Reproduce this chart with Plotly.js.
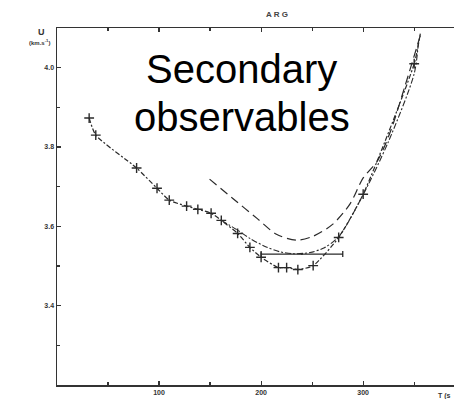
<!DOCTYPE html>
<html>
<head>
<meta charset="utf-8">
<script src="https://cdn.plot.ly/plotly-3.0.1.min.js"></script>
<style>html,body{margin:0;padding:0;background:#fff}#chart{width:454px;height:399px}</style>
</head>
<body>
<div id="chart"></div>
<script>
// Observed group velocity with markers (dash-dot)
var obsT = [31.5, 38, 78, 98, 110, 127, 138, 151, 161, 177, 189, 200, 217, 225, 236, 251, 276, 300, 350, 356];
var obsU = [3.873, 3.830, 3.747, 3.696, 3.666, 3.651, 3.643, 3.633, 3.615, 3.582, 3.547, 3.522, 3.496, 3.496, 3.491, 3.501, 3.572, 3.681, 4.010, 4.086];
var obsMarked = [1,1,1,1,1,1,1,1,1,1,1,1,1,1,1,1,1,1,1,0];
// Middle model curve (dash-dot, no markers)
var midT = [161, 176, 190, 205, 218, 232, 248, 262, 276, 300, 325, 350, 354];
var midU = [3.615, 3.592, 3.568, 3.548, 3.536, 3.531, 3.534, 3.546, 3.574, 3.680, 3.815, 3.985, 4.060];
// Upper model curve (long dash)
var upT = [149.5, 172, 196, 215, 235, 251, 270, 287, 300, 314, 327, 341, 356];
var upU = [3.719, 3.671, 3.620, 3.580, 3.565, 3.575, 3.605, 3.656, 3.722, 3.765, 3.841, 3.954, 4.081];
// Horizontal bar
var barT = [240];
var barU = [3.530];
var barHalf = [40];
// Tick labels
var xTickVals = [100, 200, 300];
var xTickText = ['<b>100</b>', '<b>200</b>', '<b>300</b>'];
var yTickVals = [3.4, 3.6, 3.8, 4.0];
var yTickText = ['<b>3.4</b>', '<b>3.6</b>', '<b>3.8</b>', '<b>4.0</b>'];

var lineCol = '#2a2a2a';
var markT = obsT.filter(function(_, i){return obsMarked[i];});
var markU = obsU.filter(function(_, i){return obsMarked[i];});

var data = [
  {x: upT, y: upU, mode: 'lines', line: {color: lineCol, width: 1.2, dash: '9px,5px', shape: 'spline', smoothing: 0.8}, hoverinfo: 'skip'},
  {x: midT, y: midU, mode: 'lines', line: {color: lineCol, width: 1.1, dash: '6px,2px,2px,2px', shape: 'spline', smoothing: 0.8}, hoverinfo: 'skip'},
  {x: obsT, y: obsU, mode: 'lines', line: {color: lineCol, width: 1.2, dash: '5px,2px,2px,2px', shape: 'spline', smoothing: 0.6}, hoverinfo: 'skip'},
  {x: markT, y: markU, mode: 'markers', marker: {symbol: 'cross-thin-open', size: 7, color: lineCol, line: {color: lineCol, width: 1.4}}, hoverinfo: 'skip'},
  {x: barT, y: barU, mode: 'markers', marker: {size: 2, color: lineCol},
   error_x: {type: 'data', array: barHalf, visible: true, color: lineCol, thickness: 1.3, width: 3}, hoverinfo: 'skip'}
];

var axisCommon = {ticks: 'inside', ticklen: 4, tickcolor: '#333', tickwidth: 1.2, showline: true, linecolor: '#333', linewidth: 1.5,
                  showgrid: false, zeroline: false, tickfont: {size: 7, color: '#333'}};

var layout = {
  width: 454, height: 399,
  margin: {l: 57, r: 0, t: 28, b: 14},
  showlegend: false,
  paper_bgcolor: '#fff', plot_bgcolor: '#fff',
  font: {family: 'Liberation Sans, Arial, sans-serif', color: '#333'},
  title: {text: '<b>A R G</b>', font: {size: 8, color: '#444'}, x: 0.61, xanchor: 'center', y: 0.965, yanchor: 'middle'},
  xaxis: Object.assign({}, axisCommon, {range: [0, 389], tickmode: 'array', tickvals: xTickVals, ticktext: xTickText, mirror: 'ticks',
          minor: {dtick: 50, tick0: 0, ticks: 'inside', ticklen: 3, tickcolor: '#333', showgrid: false}}),
  yaxis: Object.assign({}, axisCommon, {range: [3.2, 4.1], tickmode: 'array', tickvals: yTickVals, ticktext: yTickText,
          minor: {dtick: 0.1, tick0: 3.2, ticks: 'inside', ticklen: 3, tickcolor: '#333', showgrid: false}}),
  annotations: [
    {xref: 'paper', yref: 'paper', x: -0.04, y: 0.99, xanchor: 'center', yanchor: 'middle', text: '<b>U</b>', showarrow: false, font: {size: 9, color: '#333'}},
    {xref: 'paper', yref: 'paper', x: -0.045, y: 0.96, xanchor: 'center', yanchor: 'middle', text: '<b>(km.s<sup>-1</sup>)</b>', showarrow: false, font: {size: 6, color: '#333'}},
    {xref: 'paper', yref: 'paper', x: 0.975, y: -0.015, xanchor: 'center', yanchor: 'top', text: '<b>T (s</b>', showarrow: false, font: {size: 7, color: '#333'}},
    {xref: 'paper', yref: 'paper', x: 0.465, y: 0.885, xanchor: 'center', yanchor: 'middle', text: 'Secondary', showarrow: false, font: {size: 40, color: '#000', family: 'Liberation Sans, Arial, sans-serif'}},
    {xref: 'paper', yref: 'paper', x: 0.465, y: 0.75, xanchor: 'center', yanchor: 'middle', text: 'observables', showarrow: false, font: {size: 40, color: '#000', family: 'Liberation Sans, Arial, sans-serif'}}
  ]
};

Plotly.newPlot('chart', data, layout, {displayModeBar: false, staticPlot: true});
</script>
</body>
</html>
